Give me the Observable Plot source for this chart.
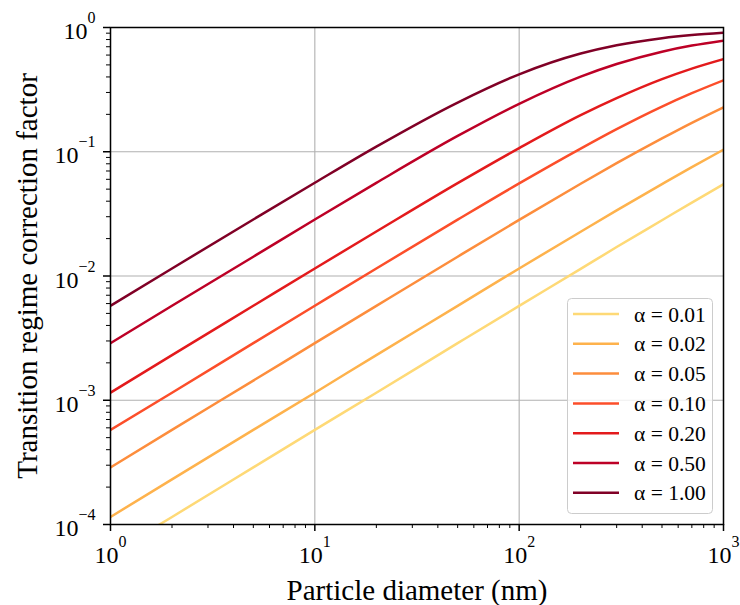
<!DOCTYPE html>
<html>
<head>
<meta charset="utf-8">
<script src="https://cdn.jsdelivr.net/npm/d3@7"></script>
<script src="https://cdn.jsdelivr.net/npm/@observablehq/plot@0.6"></script>
<style>
  html, body { margin: 0; padding: 0; background: #fff; }
  #wrap { position: relative; width: 740px; height: 605px; font-family: "Liberation Serif", "Times New Roman", serif; }
</style>
</head>
<body>
<div id="wrap"></div>
<script>
// Particle diameters (nm) at which the curves were read
const diameters = [1, 2, 5, 10, 20, 50, 100, 200, 300, 500, 700, 1000];

// Accommodation coefficients (legend order)
const alphaLabels = ["α = 0.01", "α = 0.02", "α = 0.05", "α = 0.10", "α = 0.20", "α = 0.50", "α = 1.00"];
const alphaColors = ["#fed976", "#feb24c", "#fd8d3c", "#fc4e2a", "#e31a1c", "#bd0026", "#800026"];

// Transition regime correction factor, one array per alpha
const beta001 = [5.77e-5, 1.15e-4, 2.88e-4, 5.77e-4, 1.15e-3, 2.88e-3, 5.75e-3, 0.0114, 0.0171, 0.0281, 0.0390, 0.0548];
const beta002 = [1.15e-4, 2.31e-4, 5.77e-4, 1.15e-3, 2.31e-3, 5.75e-3, 0.0115, 0.0227, 0.0337, 0.0549, 0.0753, 0.104];
const beta005 = [2.88e-4, 5.77e-4, 1.44e-3, 2.88e-3, 5.75e-3, 0.0143, 0.0283, 0.0553, 0.0809, 0.128, 0.171, 0.228];
const beta010 = [5.77e-4, 1.15e-3, 2.88e-3, 5.76e-3, 0.0115, 0.0284, 0.0556, 0.106, 0.152, 0.231, 0.296, 0.376];
const beta020 = [1.15e-3, 2.31e-3, 5.76e-3, 0.0115, 0.0228, 0.0559, 0.107, 0.197, 0.270, 0.384, 0.467, 0.557];
const beta050 = [2.88e-3, 5.76e-3, 0.0143, 0.0285, 0.0562, 0.134, 0.243, 0.402, 0.508, 0.639, 0.715, 0.784];
const beta100 = [5.76e-3, 0.0115, 0.0285, 0.0563, 0.110, 0.249, 0.420, 0.617, 0.720, 0.821, 0.870, 0.908];

// Ticks
const xMajor = [1, 10, 100, 1000];
const xMinor = [2, 3, 4, 5, 6, 7, 8, 9, 20, 30, 40, 50, 60, 70, 80, 90, 200, 300, 400, 500, 600, 700, 800, 900];
const yMajor = [1e-4, 1e-3, 1e-2, 1e-1, 1];
const yMinor = [2e-4, 3e-4, 4e-4, 5e-4, 6e-4, 7e-4, 8e-4, 9e-4,
                2e-3, 3e-3, 4e-3, 5e-3, 6e-3, 7e-3, 8e-3, 9e-3,
                0.02, 0.03, 0.04, 0.05, 0.06, 0.07, 0.08, 0.09,
                0.2, 0.3, 0.4, 0.5, 0.6, 0.7, 0.8, 0.9];

const series = [beta001, beta002, beta005, beta010, beta020, beta050, beta100];
const rows = [];
alphaLabels.forEach((a, i) => diameters.forEach((d, j) => rows.push({alpha: a, d, beta: series[i][j]})));

const expFormat = d => {
  const e = Math.round(Math.log10(d));
  return e < 0 ? "\u2212" + Math.abs(e) : String(e);
};

const chart = Plot.plot({
  width: 740,
  height: 605,
  marginLeft: 110,
  marginRight: 17,
  marginTop: 27,
  marginBottom: 81,
  style: {fontFamily: '"Liberation Serif", "Times New Roman", serif', background: "white", color: "black", overflow: "visible"},
  x: {type: "log", domain: [1, 1000]},
  y: {type: "log", domain: [1e-4, 1]},
  color: {domain: alphaLabels, range: alphaColors},
  marks: [
    Plot.gridX(xMajor, {stroke: "#b0b0b0", strokeOpacity: 1, strokeWidth: 1.1}),
    Plot.gridY(yMajor, {stroke: "#b0b0b0", strokeOpacity: 1, strokeWidth: 1.1}),
    Plot.line(rows, {x: "d", y: "beta", z: "alpha", stroke: "alpha", strokeWidth: 2.5, curve: "monotone-x", clip: true}),
    Plot.frame({stroke: "black", strokeWidth: 1.5}),
    Plot.axisX(xMinor, {tickSize: 4, tickFormat: () => "", label: null, strokeWidth: 1}),
    Plot.axisX(xMajor, {tickSize: 7, tickPadding: 14, tickFormat: expFormat, fontSize: 24, strokeWidth: 1.5,
      label: "Particle diameter (nm)", labelAnchor: "center", labelOffset: 75, labelArrow: "none"}),
    Plot.axisY(yMinor, {tickSize: 4, tickFormat: () => "", label: null, strokeWidth: 1}),
    Plot.axisY(yMajor, {tickSize: 7, tickPadding: 8, tickFormat: expFormat, fontSize: 24, strokeWidth: 1.5,
      label: "Transition regime correction factor", labelAnchor: "center", labelOffset: 94, labelArrow: "none"})
  ]
});

const svg = d3.select(chart);
// Superscript exponents on tick labels
svg.selectAll('g[aria-label="x-axis tick label"] text, g[aria-label="y-axis tick label"] text').each(function () {
  const t = d3.select(this);
  const e = t.text();
  if (!e) return;
  const isY = this.parentNode.getAttribute("aria-label").startsWith("y");
  t.text("10");
  if (isY) t.attr("dy", 4);
  t.append("tspan").attr("dy", -16).attr("font-size", 16).text(e);
});
svg.selectAll('g[aria-label="x-axis label"] text, g[aria-label="y-axis label"] text').attr("font-size", 29);

const wrap = d3.select("#wrap");
wrap.node().appendChild(chart);

// Legend (line swatches) inside the plot's lower right corner
const leg = wrap.append("svg")
  .style("position", "absolute").style("left", "567px").style("top", "298px")
  .attr("width", 147).attr("height", 217);
leg.append("rect").attr("x", 0.5).attr("y", 0.5).attr("width", 145).attr("height", 215).attr("rx", 4)
  .attr("fill", "white").attr("fill-opacity", 0.8).attr("stroke", "#cccccc").attr("stroke-width", 1);
alphaLabels.forEach((a, i) => {
  const cy = 16 + i * 29.8;
  leg.append("line").attr("x1", 6).attr("x2", 52).attr("y1", cy).attr("y2", cy)
    .attr("stroke", alphaColors[i]).attr("stroke-width", 2.5);
  leg.append("text").attr("x", 67).attr("y", cy + 7.5)
    .attr("font-family", '"Liberation Serif", "Times New Roman", serif').attr("font-size", 21.5).attr("fill", "#000")
    .text(a);
});
</script>
</body>
</html>
